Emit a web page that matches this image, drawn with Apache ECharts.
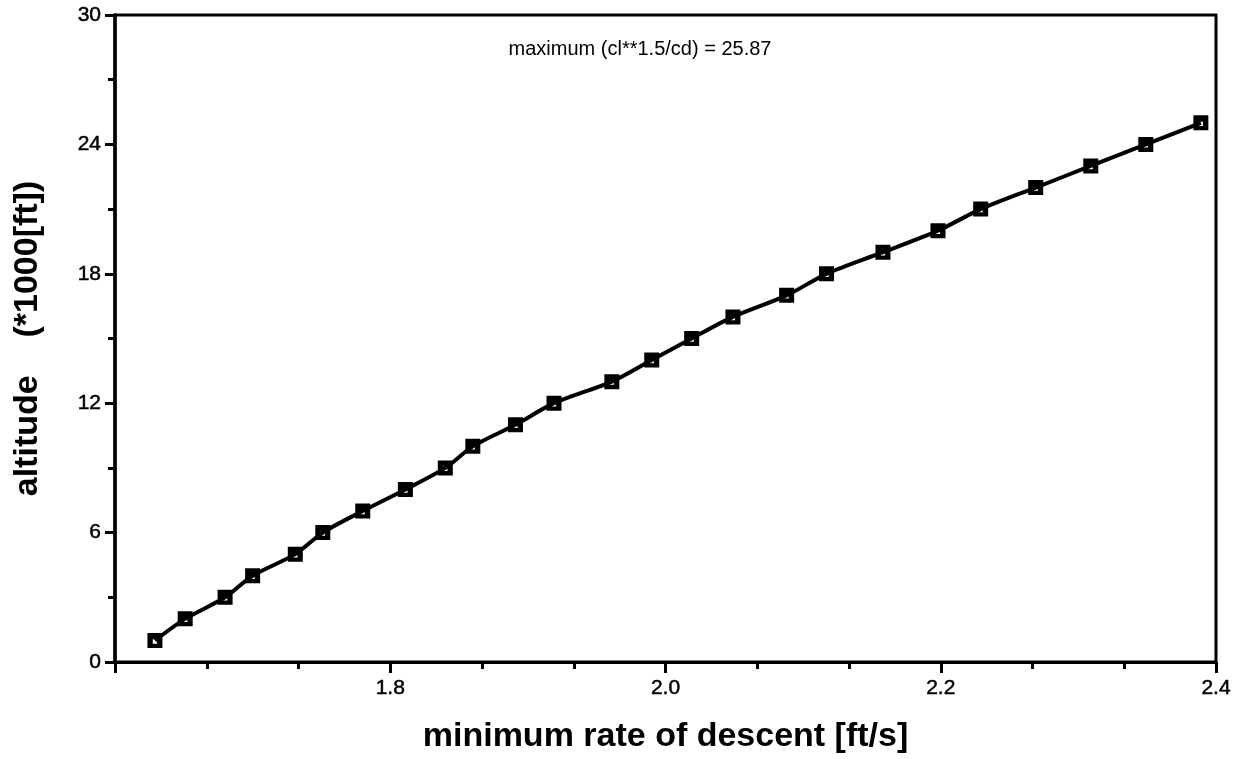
<!DOCTYPE html>
<html>
<head>
<meta charset="utf-8">
<script src="https://cdn.jsdelivr.net/npm/echarts@6/dist/echarts.min.js"></script>
<style>
html,body{margin:0;padding:0;background:#fff;}
#chart{width:1250px;height:759px;}
</style>
</head>
<body>
<div id="chart"></div>
<script>
// altitude in thousands of feet
var altitude = [1,2,3,4,5,6,7,8,9,10,11,12,13,14,15,16,17,18,19,20,21,22,23,24,25];
// minimum rate of descent [ft/s]
var rateOfDescent = [1.629,1.651,1.680,1.700,1.731,1.751,1.780,1.811,1.840,1.860,1.891,1.919,1.961,
  1.990,2.019,2.049,2.088,2.117,2.158,2.198,2.229,2.269,2.309,2.349,2.389];
var xTicks = [1.6,1.8,2.0,2.2,2.4];
var yTicks = [0,6,12,18,24,30];
var annotation = 'maximum (cl**1.5/cd) = 25.87';
var xTitle = 'minimum rate of descent [ft/s]';
var yTitle = 'altitude    (*1000[ft])';

var pts = rateOfDescent.map(function(v,i){return [v, altitude[i]];});
var FONT = '"Liberation Sans", Arial, Helvetica, sans-serif';
var chart = echarts.init(document.getElementById('chart'));
chart.setOption({
  backgroundColor:'#fff',
  animation:false,
  grid:{left:115,right:34,top:15,bottom:92,show:true,borderColor:'#000',borderWidth:3},
  graphic:[{type:'text',x:640,y:39,style:{text:annotation,fontSize:20,fontFamily:FONT,fill:'#000',align:'center'}}],
  xAxis:{type:'value',min:xTicks[0],max:xTicks[xTicks.length-1],interval:0.2,
    axisLine:{lineStyle:{color:'#000',width:3}},
    axisTick:{inside:false,length:11,lineStyle:{color:'#000',width:3}},
    minorTick:{show:true,splitNumber:3,length:7,lineStyle:{color:'#000',width:3}},
    splitLine:{show:false},
    axisLabel:{color:'#000',fontSize:21,fontFamily:FONT,margin:16,textBorderColor:'#000',textBorderWidth:0.5,
      formatter:function(v){var s=v.toFixed(1);return s===xTicks[0].toFixed(1)?'':s;}},
    name:xTitle,nameLocation:'middle',nameGap:58,
    nameTextStyle:{color:'#000',fontSize:34,fontWeight:'bold',fontFamily:FONT}},
  yAxis:{type:'value',min:yTicks[0],max:yTicks[yTicks.length-1],interval:6,
    axisLine:{lineStyle:{color:'#000',width:3.5}},
    axisTick:{inside:false,length:10,lineStyle:{color:'#000',width:3}},
    minorTick:{show:true,splitNumber:2,length:7,lineStyle:{color:'#000',width:3}},
    splitLine:{show:false},
    axisLabel:{color:'#000',fontSize:21,fontFamily:FONT,margin:14,textBorderColor:'#000',textBorderWidth:0.5},
    name:yTitle,nameLocation:'middle',nameGap:70,nameRotate:90,
    nameTextStyle:{color:'#000',fontSize:34,fontWeight:'bold',fontFamily:FONT}},
  series:[{type:'line',data:pts,smooth:0.3,
    lineStyle:{color:'#000',width:4},
    symbol:'path://M0,0H14V14H0Z M5,6V10H9V6Z',symbolSize:15,symbolKeepAspect:true,
    itemStyle:{color:'#000',borderWidth:0}}]
});
</script>
</body>
</html>
